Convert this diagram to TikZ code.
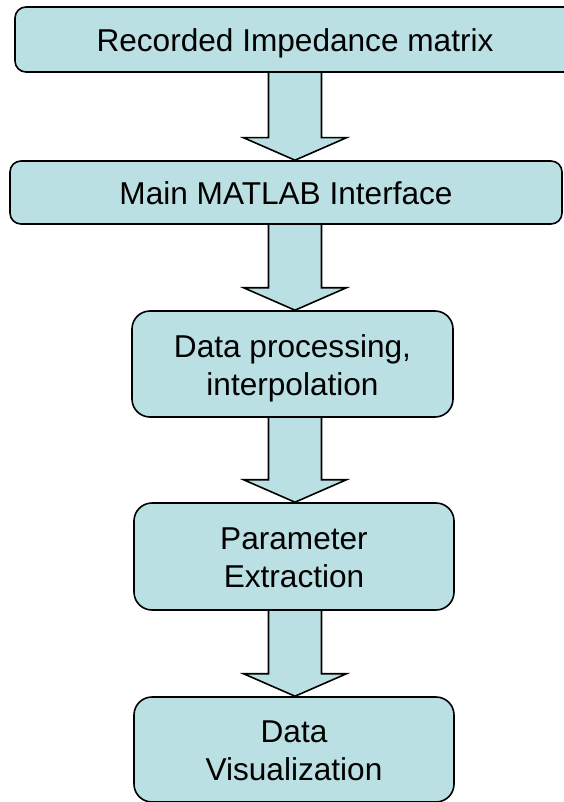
\documentclass[tikz,border=0pt]{standalone}
\usepackage{fontspec}
\setmainfont{Liberation Sans}
\usetikzlibrary{calc,backgrounds}
\definecolor{boxfill}{HTML}{BBE0E3}
\tikzset{
  box/.style={draw=black, line width=1.6pt, fill=boxfill, rounded corners=#1,
    inner sep=0pt, align=center, font=\fontsize{31.6}{38}\selectfont},
  box/.default=11pt,
  oneline/.style={text height=24pt, text depth=0pt},
  twoline/.style={text height=24pt, text depth=38pt},
  flowarrow/.style={draw=black, line width=1.6pt, fill=boxfill, line join=miter}
}
\newcommand\myarrow[2]{%
  \filldraw[flowarrow]
    ($(axis |- #1.south)+(-26.5,0)$) --
    ($(axis |- #2.north)+(-26.5,-22.5)$) --
    ($(axis |- #2.north)+(-51.5,-22.5)$) --
    (axis |- #2.north) --
    ($(axis |- #2.north)+(51.5,-22.5)$) --
    ($(axis |- #2.north)+(26.5,-22.5)$) --
    ($(axis |- #1.south)+(26.5,0)$);}
\newcommand\twolines[2]{\begin{tabular}[t]{@{}c@{}}#1\\#2\end{tabular}}
\begin{document}
\begin{tikzpicture}[x=1pt, y=-1pt]
\useasboundingbox (0,0) rectangle (563,802);
\coordinate (axis) at (295,0);
\node[box, oneline, minimum width=560pt, minimum height=65pt] (b1) at (295,39.5) {Recorded Impedance matrix};
\node[box, oneline, minimum width=552pt, minimum height=63pt] (b2) at (286,192.5) {Main MATLAB Interface};
\node[box=18pt, twoline, minimum width=321pt, minimum height=106pt] (b3) at (292.5,364) {\twolines{Data processing,}{interpolation}};
\node[box=18pt, twoline, minimum width=320pt, minimum height=107pt] (b4) at (294,556.5) {\twolines{Parameter}{Extraction}};
\node[box=18pt, twoline, minimum width=320pt, minimum height=105pt] (b5) at (294,749.5) {\twolines{Data}{Visualization}};
\begin{pgfonlayer}{background}
\myarrow{b1}{b2}
\myarrow{b2}{b3}
\myarrow{b3}{b4}
\myarrow{b4}{b5}
\end{pgfonlayer}
\end{tikzpicture}
\end{document}
